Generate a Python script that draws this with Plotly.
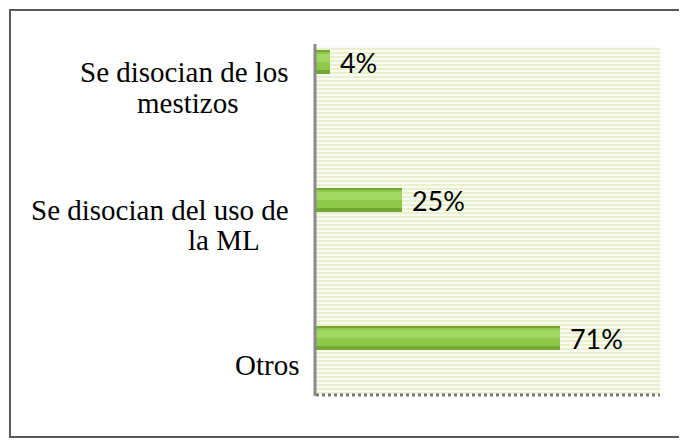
import plotly.graph_objects as go

# ---- data ----
categories = ["Se disocian de los mestizos", "Se disocian del uso de la ML", "Otros"]
values = [0.04, 0.25, 0.71]
value_labels = ["4%", "25%", "71%"]
label_lines = [["Se disocian de los", "mestizos"], ["Se disocian del uso de", "la ML"], ["Otros"]]

# ---- layout constants (pixels; page has an 8px body margin) ----
OFF = 8
W, H = 687, 442
L = 316 - OFF
T = 47 - OFF
PR = 660 - OFF
PB = 395 - OFF
R = W - PR
B = H - PB
PW, PH = PR - L, PB - T

def px_x(p):
    return (p - OFF - L) / PW

def px_y(p):
    return (PB - (p - OFF)) / PH

fig = go.Figure()

# background texture (base axes)
fig.add_trace(go.Bar(
    x=[1], y=[0.5], width=[1], orientation="h",
    marker=dict(color="white", line=dict(width=0),
                pattern=dict(shape="-", fgcolor="#d6e4a8", bgcolor="#fafcf2", size=4, solidity=0.5)),
    hoverinfo="skip", showlegend=False, xaxis="x", yaxis="y",
))

# cylinder-like bars (overlaid layers)
fig.add_trace(go.Bar(
    x=values, y=categories, orientation="h", width=0.17,
    marker=dict(color="#74a834", line=dict(width=0)),
    text=value_labels, texttemplate="\u00a0%{text}", textposition="outside",
    cliponaxis=False, constraintext="none",
    textfont=dict(family="Lato", size=27, color="#000000"),
    showlegend=False, xaxis="x2", yaxis="y2",
))
fig.add_trace(go.Bar(
    x=values, y=categories, orientation="h", width=0.13, offset=-0.055,
    marker=dict(color="#8fc94a", line=dict(width=0)),
    showlegend=False, xaxis="x2", yaxis="y2", hoverinfo="skip",
))
fig.add_trace(go.Bar(
    x=values, y=categories, orientation="h", width=0.055, offset=0.0,
    marker=dict(color="#a2d764", line=dict(width=0)),
    showlegend=False, xaxis="x2", yaxis="y2", hoverinfo="skip",
))

# category labels
annotations = []
line_centers = [[184, 188], [160, 224], [267]]
line_offsets = [[10, 41], [10, 40], [27]]
for cat, lines, cxs, offs in zip(categories, label_lines, line_centers, line_offsets):
    for ln, cx, off in zip(lines, cxs, offs):
        annotations.append(dict(
            text=ln, x=px_x(cx), xref="paper", y=cat, yref="y2",
            yshift=-off, xanchor="center", yanchor="middle", showarrow=False,
            font=dict(family="Liberation Serif", size=29, color="#000000"),
        ))

shapes = [
    # outer border
    dict(type="rect", xref="paper", yref="paper",
         x0=px_x(10), x1=px_x(680), y0=px_y(437), y1=px_y(10),
         line=dict(color="#595959", width=2), fillcolor="rgba(0,0,0,0)", layer="below"),
    # floor
    dict(type="line", xref="paper", yref="paper", x0=0, x1=1, y0=0, y1=0,
         line=dict(color="#7a7a7a", width=3, dash="dot")),
    # left wall
    dict(type="line", xref="paper", yref="paper", x0=px_x(315), x1=px_x(315), y0=px_y(396), y1=px_y(44),
         line=dict(color="#8a8a8a", width=3)),
]

fig.update_layout(
    width=W, height=H,
    margin=dict(l=L, r=R, t=T, b=B),
    paper_bgcolor="white", plot_bgcolor="white",
    barmode="overlay", bargap=0,
    xaxis=dict(range=[0, 1], visible=False, fixedrange=True),
    yaxis=dict(range=[0, 1], visible=False, fixedrange=True),
    xaxis2=dict(range=[0, 1], overlaying="x", visible=False, showgrid=False),
    yaxis2=dict(type="category", categoryarray=categories[::-1], range=[-0.413, 2.109],
                overlaying="y", visible=False, showgrid=False),
    annotations=annotations, shapes=shapes,
    showlegend=False,
)

fig.write_html("out.html")
